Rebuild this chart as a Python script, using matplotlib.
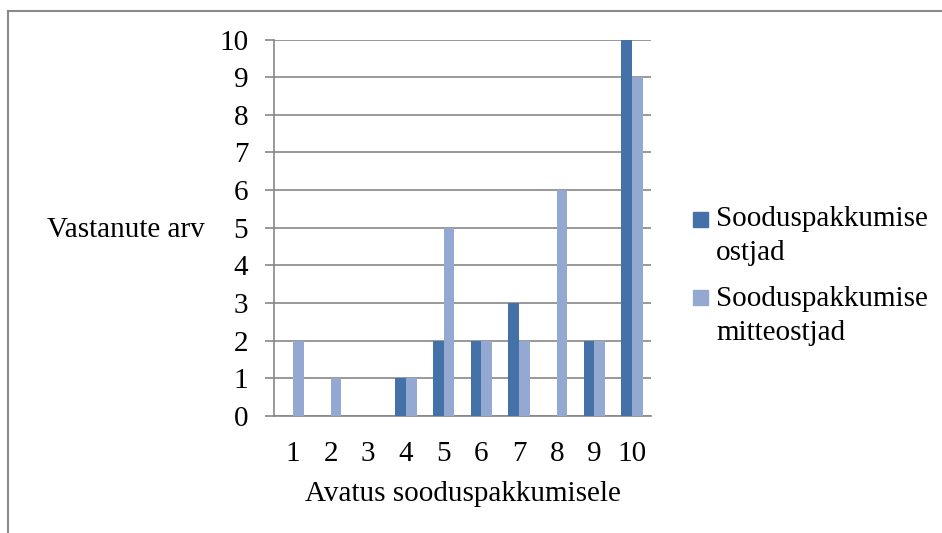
import numpy as np
import matplotlib.pyplot as plt
from matplotlib.patches import Rectangle
from matplotlib.lines import Line2D

plt.rcParams['font.family'] = ['Liberation Serif', 'DejaVu Serif']

categories = ['1', '2', '3', '4', '5', '6', '7', '8', '9', '10']
ostjad = [0, 0, 0, 1, 2, 2, 3, 0, 2, 10]
mitteostjad = [2, 1, 0, 1, 5, 2, 2, 6, 2, 9]
series_names = ['Sooduspakkumise\nostjad', 'Sooduspakkumise\nmitteostjad']
colors = ['#4472a8', '#94a9d2']

W, H = 942, 533
fig = plt.figure(figsize=(W / 100, H / 100), dpi=100)
ax = fig.add_axes([274 / W, 1 - 416 / H, (651 - 274) / W, (416 - 39.5) / H])

x = np.arange(len(categories))
bw = 0.283
ax.bar(x - bw / 2, ostjad, bw, color=colors[0], zorder=3)
ax.bar(x + bw / 2, mitteostjad, bw, color=colors[1], zorder=3)

ax.set_xlim(-0.5, len(categories) - 0.5)
ax.set_ylim(0, 10)
ax.set_yticks(range(0, 11))
ax.set_xticks(x)
ax.set_xticklabels(categories)
ax.yaxis.grid(True, color='#878787', linewidth=1.2, zorder=0)
for side in ['top', 'right']:
    ax.spines[side].set_visible(False)
for side in ['left', 'bottom']:
    ax.spines[side].set_color('#878787')
    ax.spines[side].set_linewidth(1.2)
ax.tick_params(axis='y', length=6.5, width=1.2, color='#878787', pad=12, labelsize=21)
ax.tick_params(axis='x', length=0, pad=18, labelsize=21)

fig.text(47 / W, 1 - 230 / H, 'Vastanute arv', fontsize=21, ha='left', va='center')
fig.text(463 / W, 1 - 494 / H, 'Avatus sooduspakkumisele', fontsize=21, ha='center', va='center')

# legend drawn by hand so the swatch sits on the first text line
swatch_y = [220, 297]
text_y = [236.5, 316]
for name, c, sy, ty in zip(series_names, colors, swatch_y, text_y):
    fig.add_artist(Rectangle((693 / W, 1 - (sy + 7.5) / H), 15 / W, 15 / H,
                             transform=fig.transFigure, color=c))
    fig.text(716 / W, 1 - ty / H, name, fontsize=21, ha='left', va='center',
             linespacing=1.4)

# outer frame: top and left edges
fig.add_artist(Line2D([8 / W, 1], [1 - 10.5 / H] * 2, transform=fig.transFigure,
                      color='#8a8a8a', linewidth=1.5))
fig.add_artist(Line2D([8 / W, 8 / W], [0, 1 - 10.5 / H], transform=fig.transFigure,
                      color='#8a8a8a', linewidth=1.5))

fig.savefig('out.png', dpi=100)
